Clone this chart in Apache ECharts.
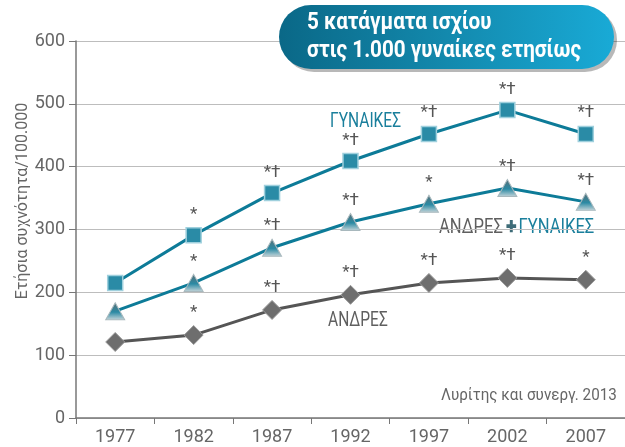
<!DOCTYPE html>
<html lang="el">
<head>
    <meta charset="UTF-8">
    <title>Κατάγματα ισχίου</title>
    <script src="https://cdn.jsdelivr.net/npm/echarts@6/dist/echarts.min.js"></script>
    <style>
        body { margin: 0; background: #fff; }
    </style>
</head>
<body>
<div id="chart" style="width:625px; height:447px"></div>
<script type="text/javascript">
    // δεδομένα
    var years = ['1977', '1982', '1987', '1992', '1997', '2002', '2007'];
    var gynaikes = [215, 291, 358, 409, 452, 490, 452];
    var synolo = [170, 215, 271, 312, 341, 366, 344];
    var andres = [121, 132, 172, 196, 215, 223, 220];
    // σημάνσεις πάνω από τα σημεία
    var marksGyn = ['', '*', '*†', '*†', '*†', '*†', '*†'];
    var marksSyn = ['', '*', '*†', '*†', '*', '*†', '*†'];
    var marksAnd = ['', '*', '*†', '*†', '*†', '*†', '*'];
    var yTicks = [0, 100, 200, 300, 400, 500, 600];

    var FONT = "Roboto, 'Noto Sans', sans-serif";
    var TEAL = '#0d7b98';
    var GREY = '#555555';

    function withMarks(values, marks) {
        var out = [];
        for (var i = 0; i < values.length; i++) {
            out.push({ value: values[i], mark: marks[i] });
        }
        return out;
    }

    var markLabel = {
        show: true,
        position: 'top',
        distance: 4,
        color: '#555',
        fontSize: 17,
        fontFamily: FONT,
        formatter: function (p) { return p.data.mark; }
    };

    var myChart = echarts.init(document.getElementById('chart'));
    myChart.setOption({
        backgroundColor: '#fff',
        animation: false,
        grid: { left: 76, right: -4, top: 41, bottom: 29 },
        xAxis: {
            type: 'category',
            data: years,
            boundaryGap: true,
            axisLine: { lineStyle: { color: '#777', width: 1.5 } },
            axisTick: { show: true, length: 6, lineStyle: { color: '#777' } },
            axisLabel: { color: '#666', fontSize: 18, fontFamily: FONT, margin: 10 }
        },
        yAxis: {
            type: 'value',
            min: yTicks[0],
            max: yTicks[yTicks.length - 1],
            interval: 100,
            axisLine: { show: true, lineStyle: { color: '#777', width: 1.5 } },
            axisTick: { show: true, length: 7, lineStyle: { color: '#777' } },
            axisLabel: { color: '#666', fontSize: 18, fontFamily: FONT, margin: 11 },
            splitLine: { lineStyle: { color: '#bdbdbd', width: 1.2 } }
        },
        series: [
            {
                name: 'ΓΥΝΑΙΚΕΣ',
                type: 'line',
                data: withMarks(gynaikes, marksGyn),
                symbol: 'rect',
                symbolSize: 15,
                lineStyle: { color: TEAL, width: 3 },
                itemStyle: { color: '#2a8ba6', borderColor: '#9fd0dd', borderWidth: 1.5 },
                label: markLabel,
                z: 3
            },
            {
                name: 'ΑΝΔΡΕΣ + ΓΥΝΑΙΚΕΣ',
                type: 'line',
                data: withMarks(synolo, marksSyn),
                symbol: 'triangle',
                symbolSize: [19, 17],
                lineStyle: { color: TEAL, width: 3 },
                itemStyle: {
                    color: new echarts.graphic.LinearGradient(0, 0, 0, 1, [
                        { offset: 0, color: '#5a6e74' },
                        { offset: 0.55, color: '#2b8aa4' },
                        { offset: 1, color: '#c9d6da' }
                    ]),
                    borderColor: '#a8b8bd',
                    borderWidth: 1
                },
                label: markLabel,
                z: 3
            },
            {
                name: 'ΑΝΔΡΕΣ',
                type: 'line',
                data: withMarks(andres, marksAnd),
                symbol: 'diamond',
                symbolSize: [19, 19],
                lineStyle: { color: GREY, width: 3 },
                itemStyle: { color: '#6e6e6e', borderColor: '#9a9a9a', borderWidth: 1 },
                label: markLabel,
                z: 3
            }
        ],
        graphic: [
            {
                type: 'text',
                x: 23,
                y: 201,
                rotation: Math.PI / 2,
                style: {
                    text: 'Ετήσια συχνότητα/100.000',
                    fill: '#666',
                    font: '16px ' + FONT,
                    align: 'center',
                    verticalAlign: 'middle'
                }
            },
            {
                type: 'rect',
                shape: { x: 282, y: 8, width: 335, height: 64, r: 32 },
                style: { fill: 'rgba(0,0,0,0.28)' },
                z: 9
            },
            {
                type: 'rect',
                shape: { x: 279, y: 5, width: 335, height: 64, r: 32 },
                style: {
                    fill: new echarts.graphic.LinearGradient(0, 0, 1, 0, [
                        { offset: 0, color: '#0a6887' },
                        { offset: 0.5, color: '#1389ad' },
                        { offset: 1, color: '#19aad6' }
                    ])
                },
                z: 10
            },
            {
                type: 'text',
                x: 307,
                y: 9,
                scaleX: 0.86,
                style: {
                    text: '5 κατάγματα ισχίου\nστις 1.000 γυναίκες ετησίως',
                    fill: '#fff',
                    font: 'bold 24px ' + FONT,
                    lineHeight: 28
                },
                z: 11
            },
            {
                type: 'text',
                x: 330,
                y: 111,
                scaleX: 0.74,
                style: { text: 'ΓΥΝΑΙΚΕΣ', fill: '#1a7f9c', font: '21px ' + FONT }
            },
            {
                type: 'text',
                x: 439,
                y: 217,
                scaleX: 0.79,
                style: {
                    text: '{a|ΑΝΔΡΕΣ} {p|✚} {b|ΓΥΝΑΙΚΕΣ}',
                    rich: {
                        a: { fill: '#5f5f5f', font: '21px ' + FONT },
                        p: { fill: '#3e6c78', font: 'bold 16px ' + FONT },
                        b: { fill: '#1a7f9c', font: '21px ' + FONT }
                    }
                }
            },
            {
                type: 'text',
                x: 328,
                y: 310,
                scaleX: 0.74,
                style: { text: 'ΑΝΔΡΕΣ', fill: '#5f5f5f', font: '21px ' + FONT }
            },
            {
                type: 'text',
                x: 441,
                y: 388,
                scaleX: 0.95,
                style: { text: 'Λυρίτης και συνεργ. 2013', fill: '#666', font: '16px ' + FONT }
            }
        ]
    });
</script>
</body>
</html>
